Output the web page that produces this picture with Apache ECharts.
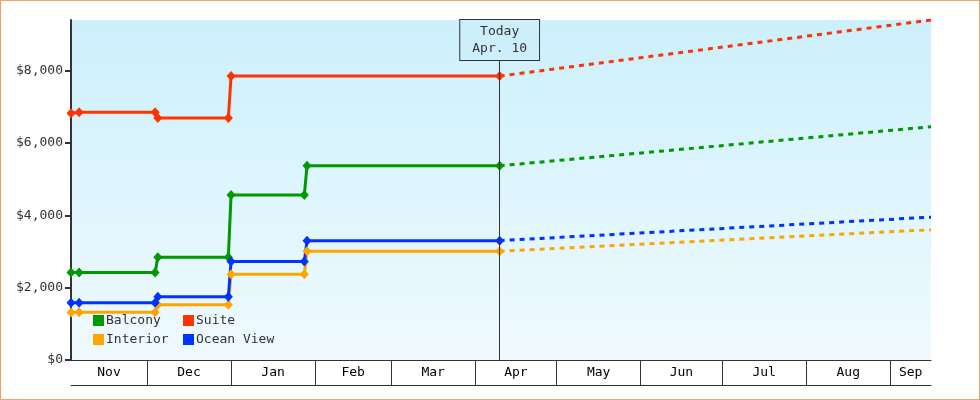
<!DOCTYPE html>
<html>
<head>
<meta charset="utf-8">
<script src="https://cdn.jsdelivr.net/npm/echarts@6/dist/echarts.min.js"></script>
<style>
html,body{margin:0;padding:0;background:#fff;}
#wrap{position:relative;width:980px;height:400px;}
#chart{position:absolute;left:0;top:0;width:980px;height:400px;}
#frame{position:absolute;left:0;top:0;width:980px;height:400px;box-sizing:border-box;border:1px solid #e9a964;pointer-events:none;}
</style>
</head>
<body>
<div id="wrap"><div id="chart"></div><div id="frame"></div></div>
<script>
// ---- data ----
const dates      = ['2024-11-03','2024-11-06','2024-12-04','2024-12-05','2024-12-31','2025-01-01','2025-01-28','2025-01-29','2025-04-10'];
const balcony    = [2420, 2420, 2420, 2840, 2840, 4560, 4560, 5370, 5370];
const suite      = [6820, 6850, 6850, 6690, 6690, 7850, null, null, 7850];
const interior   = [1310, 1320, 1320, 1530, 1530, 2370, 2370, 3010, 3010];
const oceanView  = [1580, 1580, 1580, 1750, 1750, 2720, 2720, 3300, 3300];

const projDates      = ['2025-04-10','2025-09-16'];
const balconyProj    = [5370, 6450];
const suiteProj      = [7850, 9400];
const interiorProj   = [3010, 3600];
const oceanViewProj  = [3300, 3950];

const seriesNames = ['Balcony','Suite','Interior','Ocean View'];
const monthLabels = ['Nov','Dec','Jan','Feb','Mar','Apr','May','Jun','Jul','Aug','Sep'];
const monthStarts = ['2024-11-01','2024-12-01','2025-01-01','2025-02-01','2025-03-01','2025-04-01','2025-05-01','2025-06-01','2025-07-01','2025-08-01','2025-09-01','2025-10-01'];
const yTicks = [0, 2000, 4000, 6000, 8000];
const xMin = '2024-11-03';
const xMax = '2025-09-16';
const yMax = 9400;
const todayDate = '2025-04-10';
const todayLabel = ['Today', 'Apr. 10'];

// ---- helpers ----
const ts = s => new Date(s + 'T00:00:00').getTime();
const tMin = ts(xMin), tMax = ts(xMax);
const pairs = (ds, vs) => ds.map((d, i) => [ts(d), vs[i]]);
const tickVals = monthStarts.map(ts).filter(t => t > tMin && t < tMax);
const labelVals = [];
for (let i = 0; i < monthLabels.length; i++) {
  const a = Math.max(ts(monthStarts[i]), tMin);
  const b = Math.min(ts(monthStarts[i + 1]), tMax);
  labelVals.push((a + b) / 2);
}
const money = v => '$' + String(v).replace(/\B(?=(\d{3})+(?!\d))/g, ',');

const colors = { 'Balcony': '#009900', 'Suite': '#ff3300', 'Interior': '#ffa500', 'Ocean View': '#0033ff' };
const FONT = 'DejaVu Sans Mono';
const TXT = '#333333';

const solid = { 'Balcony': balcony, 'Suite': suite, 'Interior': interior, 'Ocean View': oceanView };
const proj = { 'Balcony': balconyProj, 'Suite': suiteProj, 'Interior': interiorProj, 'Ocean View': oceanViewProj };

const series = [];
seriesNames.forEach(n => {
  series.push({
    name: n, type: 'line', data: pairs(dates, solid[n]), connectNulls: true,
    symbol: 'diamond', symbolSize: [9, 10], showSymbol: true,
    lineStyle: { color: colors[n], width: 3 }, itemStyle: { color: colors[n] },
    z: 3, clip: false
  });
  series.push({
    name: n + ' projection', type: 'line', data: pairs(projDates, proj[n]),
    showSymbol: false, symbol: 'none',
    lineStyle: { color: colors[n], width: 3, type: [5, 5] }, itemStyle: { color: colors[n] },
    z: 2
  });
});
series.push({
  name: 'today', type: 'line', data: [], z: 1,
  markLine: {
    silent: true, symbol: ['none', 'none'], animation: false,
    lineStyle: { color: '#333', width: 1, type: 'solid' },
    label: {
      show: true, position: 'end', distance: -40,
      formatter: todayLabel.join('\n'),
      fontFamily: FONT, fontSize: 13, color: TXT, lineHeight: 17,
      backgroundColor: '#cdeffc', borderColor: '#333', borderWidth: 1,
      padding: [3, 12, 3, 12]
    },
    data: [{ xAxis: ts(todayDate) }]
  }
});

const legendBase = {
  orient: 'vertical', itemWidth: 11, itemHeight: 11, itemGap: 6, icon: 'rect',
  textStyle: { fontFamily: FONT, fontSize: 13, color: TXT, padding: [0, 0, 0, -3] },
  selectedMode: false, padding: 0
};

const chart = echarts.init(document.getElementById('chart'), null, { renderer: 'canvas' });
chart.setOption({
  animation: false,
  color: seriesNames.map(n => colors[n]),
  grid: {
    left: 71, right: 49, top: 20, bottom: 40, show: true, borderWidth: 0,
    backgroundColor: new echarts.graphic.LinearGradient(0, 0, 0, 1, [
      { offset: 0, color: '#ccf0fc' }, { offset: 1, color: '#f0fafe' }
    ])
  },
  legend: [
    Object.assign({}, legendBase, { left: 93, top: 314, data: [seriesNames[0], seriesNames[2]] }),
    Object.assign({}, legendBase, { left: 183, top: 314, data: [seriesNames[1], seriesNames[3]] })
  ],
  xAxis: [
    {
      type: 'value', min: tMin, max: tMax, position: 'bottom', scale: true,
      axisLine: { show: true, onZero: false, lineStyle: { color: '#333', width: 1 } },
      axisTick: { show: true, length: 25, inside: false, lineStyle: { color: '#333', width: 1 }, customValues: tickVals },
      axisLabel: {
        show: true, margin: 6, customValues: labelVals, hideOverlap: false,
        fontFamily: FONT, fontSize: 13, color: '#000',
        formatter: (v) => { const i = labelVals.findIndex(x => Math.abs(x - v) < 1000); return i >= 0 ? monthLabels[i] : ''; }
      },
      splitLine: { show: false }
    },
    {
      type: 'value', min: tMin, max: tMax, position: 'bottom', offset: 25, scale: true,
      axisLine: { show: true, onZero: false, lineStyle: { color: '#333', width: 1 } },
      axisTick: { show: false }, axisLabel: { show: false }, splitLine: { show: false }
    }
  ],
  yAxis: {
    type: 'value', min: 0, max: yMax, interval: 2000,
    axisLine: { show: true, lineStyle: { color: '#333', width: 2 } },
    axisTick: { show: true, length: 6, lineStyle: { color: '#333', width: 2 }, customValues: yTicks },
    axisLabel: { margin: 8, customValues: yTicks, fontFamily: FONT, fontSize: 13, color: TXT, formatter: money },
    splitLine: { show: false }
  },
  series: series
});
</script>
</body>
</html>
